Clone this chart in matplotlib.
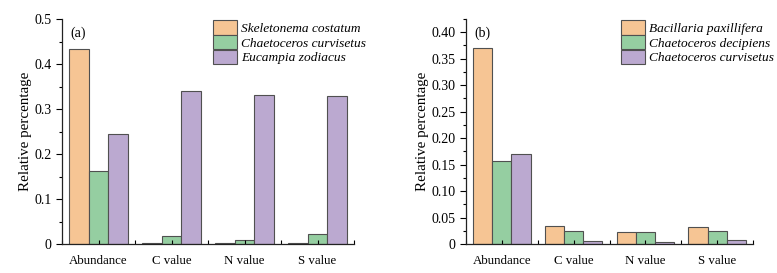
import numpy as np
import matplotlib
matplotlib.use("Agg")
import matplotlib.pyplot as plt
from matplotlib.ticker import MultipleLocator, FuncFormatter

plt.rcParams["font.family"] = ["Liberation Serif", "DejaVu Serif"]

categories = ["Abundance", "C value", "N value", "S value"]

# panel (a)
species_a = ["Skeletonema costatum", "Chaetoceros curvisetus", "Eucampia zodiacus"]
skeletonema_a = [0.433, 0.003, 0.003, 0.003]
chaetoceros_curv_a = [0.163, 0.018, 0.010, 0.022]
eucampia_a = [0.244, 0.341, 0.331, 0.330]

# panel (b)
species_b = ["Bacillaria paxillifera", "Chaetoceros decipiens", "Chaetoceros curvisetus"]
bacillaria_b = [0.370, 0.034, 0.023, 0.033]
chaetoceros_dec_b = [0.157, 0.025, 0.022, 0.025]
chaetoceros_curv_b = [0.170, 0.006, 0.003, 0.007]

COLORS = ["#F6C594", "#95CEA1", "#BBA9D0"]
EDGE = "#505050"
W = 0.8 / 3


def fmt(v, _):
    return "0" if abs(v) < 1e-9 else f"{v:g}"


def fmt2(v, _):
    return "0" if abs(v) < 1e-9 else f"{v:.2f}"


def panel(ax, series, names, ymax, major, formatter, tag, leg_x):
    x = np.arange(len(categories))
    for i, (vals, name) in enumerate(zip(series, names)):
        ax.bar(x + (i - 1) * W, vals, W, color=COLORS[i], edgecolor=EDGE,
               linewidth=0.8, label=name)
    ax.set_xlim(-0.5, 3.5)
    ax.set_ylim(0, ymax)
    ax.spines["top"].set_visible(False)
    ax.spines["right"].set_visible(False)
    for s in ("left", "bottom"):
        ax.spines[s].set_linewidth(0.9)
        ax.spines[s].set_color("#222222")
    ax.set_xticks(x)
    ax.set_xticklabels(categories, fontsize=9.3)
    ax.xaxis.set_minor_locator(MultipleLocator(0.5))
    ax.tick_params(axis="x", which="both", direction="in", length=3, width=0.8, pad=8)
    ax.yaxis.set_major_locator(MultipleLocator(major))
    ax.yaxis.set_minor_locator(MultipleLocator(major / 2))
    ax.yaxis.set_major_formatter(FuncFormatter(formatter))
    ax.tick_params(axis="y", which="major", direction="out", length=4, width=0.8, labelsize=10)
    ax.tick_params(axis="y", which="minor", direction="out", length=2.5, width=0.8)
    ax.set_ylabel("Relative percentage", fontsize=10.8, labelpad=1.5)
    ax.text(0.03, 0.935, tag, transform=ax.transAxes, fontsize=10, va="center", ha="left")
    leg = ax.legend(loc="upper left", bbox_to_anchor=(leg_x, 0.995), frameon=False,
                    prop={"style": "italic", "size": 9.6}, handlelength=1.78,
                    handleheight=1.3, labelspacing=0.0, handletextpad=0.3,
                    borderpad=0, borderaxespad=0)
    for h in leg.legend_handles:
        h.set_edgecolor(EDGE)


fig = plt.figure(figsize=(7.77, 2.73), dpi=100)
ax_a = fig.add_axes([62 / 777, 29 / 273, 292 / 777, 225 / 273])
ax_b = fig.add_axes([466 / 777, 29 / 273, 287 / 777, 225 / 273])

panel(ax_a, [skeletonema_a, chaetoceros_curv_a, eucampia_a], species_a,
      0.5, 0.1, fmt, "(a)", 0.518)
panel(ax_b, [bacillaria_b, chaetoceros_dec_b, chaetoceros_curv_b], species_b,
      0.425, 0.05, fmt2, "(b)", 0.54)

fig.savefig("out.png", dpi=100)
